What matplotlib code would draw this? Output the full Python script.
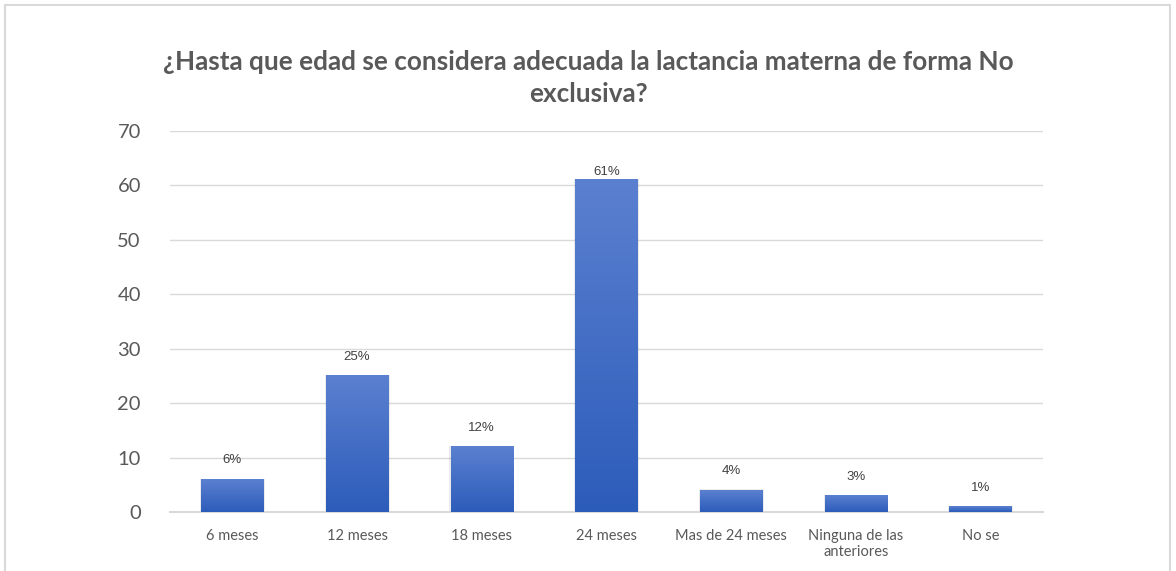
import matplotlib.pyplot as plt
import numpy as np
from matplotlib.colors import LinearSegmentedColormap
from matplotlib.patches import Rectangle

categorias = ['6 meses', '12 meses', '18 meses', '24 meses', 'Mas de 24 meses',
              'Ninguna de las\nanteriores', 'No se']
valores = [6, 25, 12, 61, 4, 3, 1]
etiquetas = ['6%', '25%', '12%', '61%', '4%', '3%', '1%']
titulo = '¿Hasta que edad se considera adecuada la lactancia materna de forma No\nexclusiva?'

gris = '#595959'
cmap = LinearSegmentedColormap.from_list('azul', ['#2c5cba', '#5b80d0'])

fig = plt.figure(figsize=(11.76, 5.71), dpi=100)
ax = fig.add_axes([0.1446, 0.1033, 0.7423, 0.6673])

# borde del grafico
fig.patches.append(Rectangle((5 / 1176, -0.05), 1165 / 1176, 1 - 5 / 571 + 0.05,
                             transform=fig.transFigure, fill=False,
                             edgecolor='#d9d9d9', lw=1.5))

x = np.arange(len(categorias))
barras = ax.bar(x, valores, width=0.5, color='none', zorder=3)

grad = np.linspace(0, 1, 256).reshape(-1, 1)
for b in barras:
    x0, y0 = b.get_x(), b.get_y()
    w, h = b.get_width(), b.get_height()
    # sombra suave
    ax.add_patch(Rectangle((x0 - 0.01, y0), w + 0.02, h + 0.15, color='#000000',
                           alpha=0.08, lw=0, zorder=2))
    ax.imshow(grad, cmap=cmap, origin='lower', aspect='auto',
              extent=(x0, x0 + w, y0, y0 + h), zorder=3)

# etiquetas de datos (la de 61% queda pegada al limite del area)
for xi, v, t in zip(x, valores, etiquetas):
    ax.text(xi, min(v + 3.5, 62.4), t, ha='center', va='center', fontsize=9.5,
            color='#404040', family='Liberation Sans')

ax.set_xlim(-0.5, len(categorias) - 0.5)
ax.set_ylim(0, 70)
ax.set_yticks(range(0, 71, 10))
ax.set_xticks(x)
ax.set_xticklabels(categorias, fontsize=10.5, color=gris, family='Lato')
for lab in ax.get_yticklabels():
    lab.set_fontsize(14.5)
    lab.set_color(gris)
    lab.set_family('Lato')
ax.tick_params(axis='both', length=0)
ax.tick_params(axis='y', pad=21)
ax.tick_params(axis='x', pad=12)
ax.grid(axis='y', color='#d9d9d9', lw=1, zorder=0)
ax.set_axisbelow(True)
for s in ['top', 'right', 'left']:
    ax.spines[s].set_visible(False)
ax.spines['bottom'].set_color('#d9d9d9')
ax.spines['bottom'].set_linewidth(1.5)

fig.text(0.5, 1 - 78 / 571, titulo, ha='center', va='center',
         fontsize=18.8, fontweight='bold', color=gris, family='Lato',
         linespacing=1.42)

fig.savefig('out.png', dpi=100)
